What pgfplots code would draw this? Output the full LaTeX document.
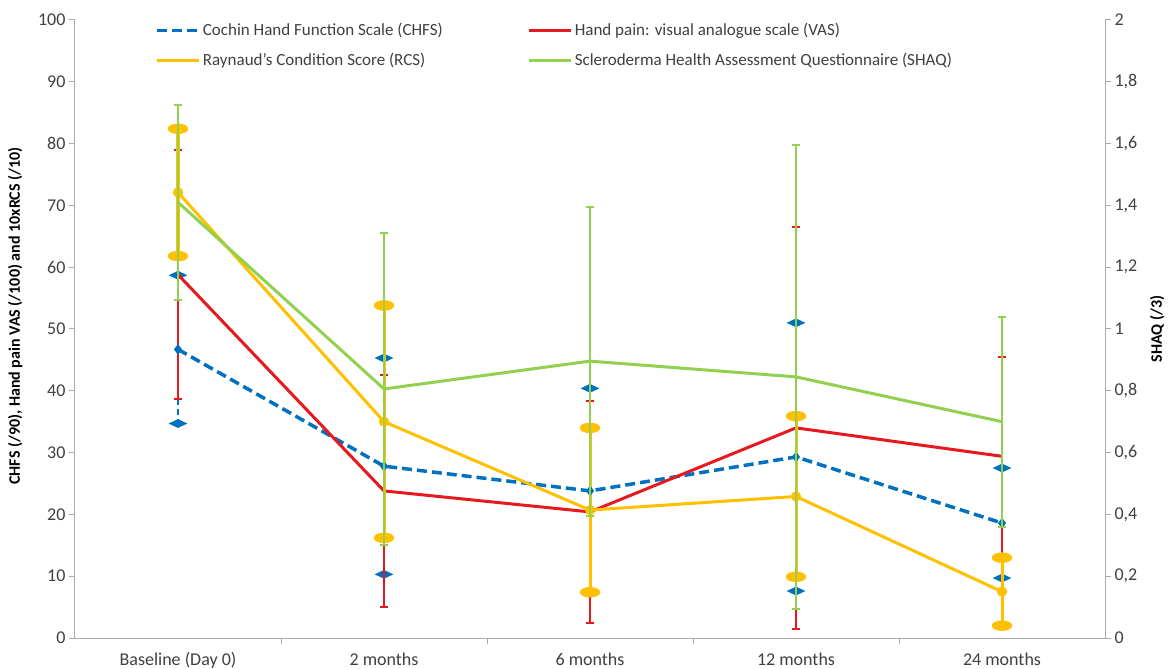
\documentclass[border=0pt]{standalone}
\usepackage{fontspec}
\setmainfont{Carlito}
\usepackage{pgfplots}
\pgfplotsset{compat=1.18}

\definecolor{chfs}{RGB}{0,112,192}
\definecolor{vas}{RGB}{230,25,30}
\definecolor{rcs}{RGB}{255,192,0}
\definecolor{shaq}{RGB}{146,208,80}
\definecolor{axgray}{RGB}{170,170,170}
\definecolor{txt}{RGB}{64,64,64}

\pgfplotsset{
  base/.style={
    scale only axis, width=1030bp, height=618bp,
    xmin=-0.5, xmax=4.5,
    axis line style={axgray, line width=1bp},
    tick style={axgray, line width=1bp},
    tick align=outside, major tick length=6bp, minor tick length=6bp,
    ticklabel style={font=\fontsize{18bp}{20bp}\selectfont, text=txt},
    label style={font=\fontsize{16bp}{18bp}\selectfont\bfseries, text=black},
    /pgf/number format/assume math mode=true,
    clip=false,
  },
}

\begin{document}
\begin{tikzpicture}
\begin{axis}[base,
  axis x line*=bottom, axis y line*=left,
  ymin=0, ymax=100, ytick={0,10,20,30,40,50,60,70,80,90,100},
  xtick={0,1,2,3,4},
  xticklabels={Baseline (Day 0),2 months,6 months,12 months,24 months},
  major x tick style={draw=none},
  minor xtick={0.5,1.5,2.5,3.5},
  xticklabel style={yshift=-5bp},
  ylabel={CHFS (/90), Hand pain VAS (/100) and 10xRCS (/10)},
  ylabel style={at={(axis description cs:-0.058,0.521)}, anchor=center},
]
% CHFS
\addplot[chfs, line width=3.5bp, dash pattern=on 10bp off 5bp,
  mark=diamond*, mark size=2.5bp, mark options={solid},
  error bars/.cd, y dir=both, y explicit, error mark=diamond*,
  error bar style={chfs, line width=2.5bp, dash pattern=on 6bp off 4bp},
  error mark options={solid, chfs, fill=chfs, mark size=5.5bp, yscale=1.6}]
coordinates {(0,46.7) +- (0,12.0) (1,27.8) +- (0,17.5) (2,23.8) +- (0,16.6)
             (3,29.3) +- (0,21.7) (4,18.6) +- (0,8.9)};
% VAS
\addplot[vas, line width=3bp,
  error bars/.cd, y dir=both, y explicit, error mark=|,
  error bar style={vas, line width=2bp},
  error mark options={vas, mark size=4bp, line width=2bp}]
coordinates {(0,58.8) +- (0,20.2) (1,23.8) +- (0,18.8) (2,20.4) +- (0,18.0)
             (3,34.0) +- (0,32.5) (4,29.4) +- (0,16.0)};
% RCS
\addplot[rcs, line width=3bp, mark=*, mark size=3.5bp,
  error bars/.cd, y dir=both, y explicit, error mark=*,
  error bar style={rcs, line width=3bp},
  error mark options={rcs, fill=rcs, mark size=5bp, yscale=2}]
coordinates {(0,72.1) +- (0,10.3) (1,35.0) +- (0,18.8) (2,20.7) +- (0,13.3)
             (3,22.9) +- (0,13.0) (4,7.5) +- (0,5.5)};
\end{axis}

\begin{axis}[base,
  axis x line=none, axis y line*=right,
  ymin=0, ymax=2, ytick={0,0.2,0.4,0.6,0.8,1,1.2,1.4,1.6,1.8,2},
  yticklabel style={/pgf/number format/use comma},
  ylabel={SHAQ (/3)},
  ylabel style={at={(axis description cs:1.0505,0.5)}, anchor=center},
  legend image code/.code={\draw[#1] (0bp,0bp) -- (42bp,0bp);},
  legend columns=2,
  legend cell align=left,
  legend style={at={(axis description cs:0.075,1.001)}, anchor=north west,
    draw=none, fill=white, font=\fontsize{17bp}{19bp}\selectfont,
    text=txt, row sep=12bp,
    /tikz/every even column/.append style={column sep=83bp}},
]
\addlegendimage{chfs, line width=3.5bp, dash pattern=on 10bp off 5bp}
\addlegendentry{Cochin Hand Function Scale (CHFS)}
\addlegendimage{vas, line width=3bp}
\addlegendentry{Hand pain: visual analogue scale (VAS)}
\addlegendimage{rcs, line width=3bp}
\addlegendentry{Raynaud's Condition Score (RCS)}
% SHAQ
\addplot[shaq, line width=3bp,
  error bars/.cd, y dir=both, y explicit, error mark=|,
  error bar style={shaq, line width=2.5bp},
  error mark options={shaq, mark size=4bp, line width=2bp}]
coordinates {(0,1.41) +- (0,0.315) (1,0.806) +- (0,0.505) (2,0.896) +- (0,0.5)
             (3,0.845) +- (0,0.75) (4,0.70) +- (0,0.34)};
\addlegendentry{Scleroderma Health Assessment Questionnaire (SHAQ)}
\end{axis}
\pgfresetboundingbox
\useasboundingbox (-75bp,-31bp) rectangle (1096bp,638bp);
\end{tikzpicture}
\end{document}
